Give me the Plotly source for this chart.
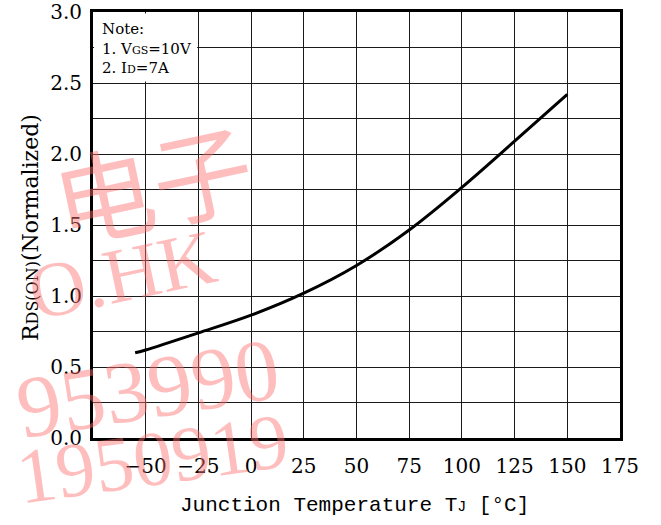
import plotly.graph_objects as go

# ---- data ----
temp_c = [-55, -50, -25, 0, 25, 50, 75, 100, 125, 150]
rds_norm = [0.60, 0.62, 0.74, 0.865, 1.02, 1.215, 1.465, 1.765, 2.09, 2.42]
x_ticks = [-50, -25, 0, 25, 50, 75, 100, 125, 150, 175]
y_ticks = [0.0, 0.5, 1.0, 1.5, 2.0, 2.5, 3.0]
note_lines = ["Note:", "1. V<span style='font-size:11px'>GS</span>=10V",
              "2. I<span style='font-size:11px'>D</span>=7A"]
watermarks = ["电子", "O.HK", "953990", "1950919"]

W, H = 661, 525
L, R, T, B = 93, 41, 12, 87
PW, PH = W - L - R, H - T - B


def px(x):
    return (x - L) / PW


def py(y):
    return (H - B - y) / PH


fig = go.Figure()
fig.add_trace(go.Scatter(x=temp_c, y=rds_norm, mode="lines",
                         line=dict(color="black", width=3, shape="spline", smoothing=1.0),
                         showlegend=False, hoverinfo="skip"))

serif = "DejaVu Serif, Liberation Serif, serif"
fig.update_layout(
    width=W, height=H,
    margin=dict(l=L, r=R, t=T, b=B, pad=0, autoexpand=False),
    paper_bgcolor="white", plot_bgcolor="white",
    font=dict(family=serif, color="black", size=19),
    showlegend=False,
)
fig.update_xaxes(range=[-75, 175], tickvals=x_ticks, ticktext=[str(v).replace("-", "−") for v in x_ticks],
                 showgrid=True, gridcolor="#1a1a1a", gridwidth=1, automargin=False,
                 ticklabeloverflow="allow",
                 showline=True, linecolor="black", linewidth=3, mirror=True,
                 ticks="", zeroline=False, ticklabelstandoff=8,
                 tickfont=dict(family=serif, size=20))
fig.update_yaxes(range=[0, 3.0], tickvals=y_ticks, ticktext=[f"{v:.1f}" for v in y_ticks],
                 showgrid=True, gridcolor="#1a1a1a", gridwidth=1, automargin=False,
                 ticklabeloverflow="allow",
                 minor=dict(dtick=0.25, tick0=0, showgrid=True, gridcolor="#1a1a1a", gridwidth=1, ticks=""),
                 showline=True, linecolor="black", linewidth=3, mirror=True,
                 ticks="", zeroline=False, ticklabelstandoff=4,
                 tickfont=dict(family=serif, size=20))

# note box (white area hiding the grid)
fig.add_shape(type="rect", xref="x", yref="y", x0=-74.5, x1=-25.6, y0=2.51, y1=2.99,
              fillcolor="white", line=dict(width=0), layer="between")
fig.add_annotation(xref="paper", yref="paper", x=px(100), y=py(18), xanchor="left", yanchor="top",
                   text="<br>".join(note_lines), showarrow=False, align="left",
                   font=dict(family=serif, size=15, color="black"))

# axis titles
fig.add_annotation(xref="paper", yref="paper", x=px(354), y=py(505), xanchor="center", yanchor="middle",
                   text="Junction Temperature T<span style='font-size:15px'>J</span> [°C]",
                   showarrow=False, font=dict(family="Liberation Mono, Courier New, monospace", size=21))
fig.add_annotation(xref="paper", yref="paper", x=px(30), y=py(228), xanchor="center", yanchor="middle",
                   text="R<span style='font-size:16px'>DS(ON)</span>(Normalized)", textangle=-90,
                   showarrow=False, font=dict(family=serif, size=22))

# watermark
pink = "rgba(255,110,110,0.45)"
wm_pos = [(152, 180, 100, -12), (122, 275, 78, -12), (148, 388, 88, -9), (152, 458, 78, -8)]
for txt, (cx, cy, fs, ang) in zip(watermarks, wm_pos):
    fam = "Noto Sans CJK SC" if txt == watermarks[0] else "Liberation Serif, serif"
    fig.add_annotation(xref="paper", yref="paper", x=px(cx), y=py(cy), xanchor="center", yanchor="middle",
                       text=txt, textangle=ang, showarrow=False,
                       font=dict(family=fam, size=fs, color=pink))

fig.write_html("out.html", config={"displayModeBar": False},
               post_script="document.body.style.margin='0';document.body.style.overflow='hidden';")
